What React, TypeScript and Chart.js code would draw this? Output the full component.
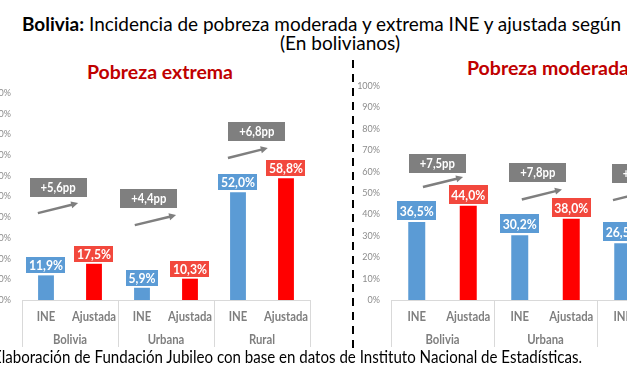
import React, { useEffect, useLayoutEffect, useRef } from 'react';
import { Chart, registerables } from 'chart.js';

Chart.register(...registerables);

// ---------- data ----------
const categories = ['INE', 'Ajustada', 'INE', 'Ajustada', 'INE', 'Ajustada'];
const groups = ['Bolivia', 'Urbana', 'Rural'];
const extremaValues = [11.9, 17.5, 5.9, 10.3, 52.0, 58.8];
const moderadaValues = [36.5, 44.0, 30.2, 38.0, 26.5, 33.4];
const seriesColors = ['#5B9BD5', '#FF0000'];
const labelBoxColors = ['#5B9BD5', '#F2483D'];
const yMax = 100;
const yStep = 10;

const FONT = 'Lato, "Open Sans", sans-serif';
const SX = 0.87;

function fmt(v: number, suffix: string) {
  return v.toFixed(1).replace('.', ',') + suffix;
}

function drawText(ctx: CanvasRenderingContext2D, text: string, x: number, y: number, font: string, color: string) {
  ctx.save();
  ctx.font = font;
  ctx.fillStyle = color;
  ctx.textAlign = 'center';
  ctx.textBaseline = 'middle';
  ctx.translate(x, y);
  ctx.scale(SX, 1);
  ctx.fillText(text, 0, 0);
  ctx.restore();
}

function textWidth(ctx: CanvasRenderingContext2D, text: string, font: string) {
  ctx.save();
  ctx.font = font;
  const w = ctx.measureText(text).width * SX;
  ctx.restore();
  return w;
}

const decorPlugin = {
  id: 'decor',
  afterDatasetsDraw(chart: any, _args: any, opts: any) {
    const ctx: CanvasRenderingContext2D = chart.ctx;
    const area = chart.chartArea;
    const xs = chart.scales.x;
    const ys = chart.scales.y;
    const values = chart.data.datasets[0].data as number[];

    // category axis line + group separators
    ctx.save();
    ctx.strokeStyle = '#D9D9D9';
    ctx.lineWidth = 1;
    ctx.beginPath();
    ctx.moveTo(area.left, Math.round(area.bottom) + 0.5);
    ctx.lineTo(area.right, Math.round(area.bottom) + 0.5);
    for (let g = 0; g <= groups.length; g++) {
      const px = Math.round(xs.getPixelForValue(g * 2 - 0.5)) + 0.5;
      ctx.moveTo(px, area.bottom);
      ctx.lineTo(px, area.bottom + opts.sepLength);
    }
    ctx.stroke();
    ctx.restore();

    const axisFont = `bold 13px ${FONT}`;
    categories.forEach((c, i) => {
      drawText(ctx, c, xs.getPixelForValue(i), area.bottom + opts.catOffset, axisFont, '#7F7F7F');
    });
    groups.forEach((g, gi) => {
      drawText(ctx, g, xs.getPixelForValue(gi * 2 + 0.5), area.bottom + opts.groupOffset, axisFont, '#7F7F7F');
    });

    // value labels
    const meta = chart.getDatasetMeta(0);
    const valFont = `bold 14px ${FONT}`;
    meta.data.forEach((el: any, i: number) => {
      const txt = fmt(values[i], '%');
      const w = textWidth(ctx, txt, valFont) + 5;
      const h = opts.labelBoxHeight;
      const bottom = el.y - 2;
      ctx.fillStyle = labelBoxColors[i % 2];
      ctx.fillRect(Math.round(el.x - w / 2), Math.round(bottom - h), Math.round(w), h);
      drawText(ctx, txt, el.x, Math.round(bottom - h) + h / 2 + 0.5, valFont, '#FFFFFF');
    });

    // difference annotations
    const annFont = `bold 13px ${FONT}`;
    (opts.annotations as any[]).forEach((a, gi) => {
      const diff = values[gi * 2 + 1] - values[gi * 2];
      const txt = '+' + fmt(diff, 'pp');
      const x0 = xs.getPixelForValue(a.ax0);
      const x1 = xs.getPixelForValue(a.ax1);
      const ym = ys.getPixelForValue(a.level);
      const y0 = ym + opts.rise / 2;
      const y1 = ym - opts.rise / 2;
      const ang = Math.atan2(y1 - y0, x1 - x0);
      const head = 7;
      ctx.save();
      ctx.strokeStyle = '#7F7F7F';
      ctx.fillStyle = '#7F7F7F';
      ctx.lineWidth = 2.5;
      ctx.beginPath();
      ctx.moveTo(x0, y0);
      ctx.lineTo(x1 - Math.cos(ang) * head * 0.8, y1 - Math.sin(ang) * head * 0.8);
      ctx.stroke();
      ctx.beginPath();
      ctx.moveTo(x1, y1);
      ctx.lineTo(x1 - head * Math.cos(ang) + 3.5 * Math.sin(ang), y1 - head * Math.sin(ang) - 3.5 * Math.cos(ang));
      ctx.lineTo(x1 - head * Math.cos(ang) - 3.5 * Math.sin(ang), y1 - head * Math.sin(ang) + 3.5 * Math.cos(ang));
      ctx.closePath();
      ctx.fill();
      const bx = xs.getPixelForValue(a.bx);
      const by = ys.getPixelForValue(a.by);
      const bw = 57;
      const bh = 19;
      ctx.fillStyle = '#7F7F7F';
      ctx.fillRect(Math.round(bx - bw / 2), Math.round(by - bh / 2), bw, bh);
      ctx.restore();
      drawText(ctx, txt, bx, Math.round(by - bh / 2) + bh / 2 + 0.5, annFont, '#FFFFFF');
    });
  },
};

type PanelProps = {
  values: number[];
  left: number;
  top: number;
  width: number;
  height: number;
  padTop: number;
  padRight: number;
  yWidth: number;
  xHeight: number;
  labelBoxHeight: number;
  annotations: { ax0: number; ax1: number; level: number; bx: number; by: number }[];
};

function Panel(p: PanelProps) {
  const ref = useRef<HTMLCanvasElement>(null);
  useEffect(() => {
    if (!ref.current) return;
    const chart = new Chart(ref.current, {
      type: 'bar',
      data: {
        labels: categories,
        datasets: [
          {
            label: 'Incidencia',
            data: p.values,
            backgroundColor: p.values.map((_, i) => seriesColors[i % 2]),
            borderWidth: 0,
            categoryPercentage: 1,
            barPercentage: 0.33,
          },
        ],
      },
      options: {
        responsive: false,
        animation: false,
        devicePixelRatio: 1,
        layout: { padding: { top: p.padTop, right: p.padRight, left: 0, bottom: 0 } },
        plugins: {
          legend: { display: false },
          tooltip: { enabled: false },
          title: { display: false },
          decor: {
            sepLength: 47,
            catOffset: 17,
            groupOffset: 40,
            labelBoxHeight: p.labelBoxHeight,
            rise: 10,
            annotations: p.annotations,
          },
        } as any,
        scales: {
          x: {
            grid: { display: false, drawTicks: false },
            border: { display: false },
            ticks: { display: false },
            afterFit: (s: any) => {
              s.height = p.xHeight;
            },
          },
          y: {
            min: 0,
            max: yMax,
            ticks: {
              stepSize: yStep,
              callback: (v: any) => v + '%',
              color: '#8C8C8C',
              font: { family: FONT, size: 9 },
              padding: 11,
            },
            grid: { display: false, drawTicks: false },
            border: { display: false },
            afterFit: (s: any) => {
              s.width = p.yWidth;
            },
          },
        },
      },
      plugins: [decorPlugin],
    });
    return () => chart.destroy();
  }, []);
  return (
    <canvas
      ref={ref}
      width={p.width}
      height={p.height}
      style={{ position: 'absolute', left: p.left, top: p.top, width: p.width, height: p.height }}
    />
  );
}

function FitText(props: {
  left: number;
  top: number;
  width: number;
  size: number;
  color?: string;
  weight?: number | string;
  children: React.ReactNode;
}) {
  const ref = useRef<HTMLSpanElement>(null);
  useLayoutEffect(() => {
    const el = ref.current;
    if (!el) return;
    el.style.transform = 'none';
    const w = el.getBoundingClientRect().width;
    if (w > 0) el.style.transform = `scaleX(${props.width / w})`;
  }, []);
  return (
    <span
      ref={ref}
      style={{
        position: 'absolute',
        left: props.left,
        top: props.top,
        whiteSpace: 'nowrap',
        fontFamily: FONT,
        fontSize: props.size,
        lineHeight: props.size + 'px',
        color: props.color || '#000',
        fontWeight: props.weight || 400,
        transformOrigin: '0 0',
      }}
    >
      {props.children}
    </span>
  );
}

export default function App() {
  useLayoutEffect(() => {
    document.body.style.margin = '0';
  }, []);
  return (
    <div
      style={{
        position: 'relative',
        width: 627,
        height: 376,
        overflow: 'hidden',
        background: '#FFFFFF',
      }}
    >
      <FitText left={22} top={14} width={599} size={19}>
        <b>Bolivia:</b> Incidencia de pobreza moderada y extrema INE y ajustada según
      </FitText>
      <FitText left={280} top={33} width={120} size={19}>
        (En bolivianos)
      </FitText>
      <FitText left={87} top={63} width={146} size={18} color="#C00000" weight={700}>
        Pobreza extrema
      </FitText>
      <FitText left={467} top={59} width={162} size={18} color="#C00000" weight={700}>
        Pobreza moderada
      </FitText>

      <Panel
        values={extremaValues}
        left={-40}
        top={60}
        width={352}
        height={290}
        padTop={33}
        padRight={2}
        yWidth={62}
        xHeight={50}
        labelBoxHeight={16}
        annotations={[
          { ax0: -0.17, ax1: 0.67, level: 44.4, bx: 0.25, by: 54.3 },
          { ax0: 1.85, ax1: 2.71, level: 38.6, bx: 2.14, by: 48.8 },
          { ax0: 3.79, ax1: 4.62, level: 71, bx: 4.39, by: 81.2 },
        ]}
      />
      <Panel
        values={moderadaValues}
        left={320}
        top={60}
        width={400}
        height={290}
        padTop={26}
        padRight={20}
        yWidth={71}
        xHeight={50}
        labelBoxHeight={19}
        annotations={[
          { ax0: 0.12, ax1: 0.9, level: 55.1, bx: 0.4, by: 63.8 },
          { ax0: 2.04, ax1: 2.82, level: 49.3, bx: 2.35, by: 59.8 },
          { ax0: 3.81, ax1: 4.59, level: 49, bx: 4.34, by: 59.2 },
        ]}
      />

      <div
        style={{
          position: 'absolute',
          left: 352,
          top: 60,
          width: 2,
          height: 288,
          background: 'repeating-linear-gradient(to bottom, #000 0px, #000 8px, transparent 8px, transparent 14px)',
        }}
      />

      <FitText left={-7} top={348} width={589} size={17}>
        Elaboración de Fundación Jubileo con base en datos de Instituto Nacional de Estadísticas.
      </FitText>
    </div>
  );
}
